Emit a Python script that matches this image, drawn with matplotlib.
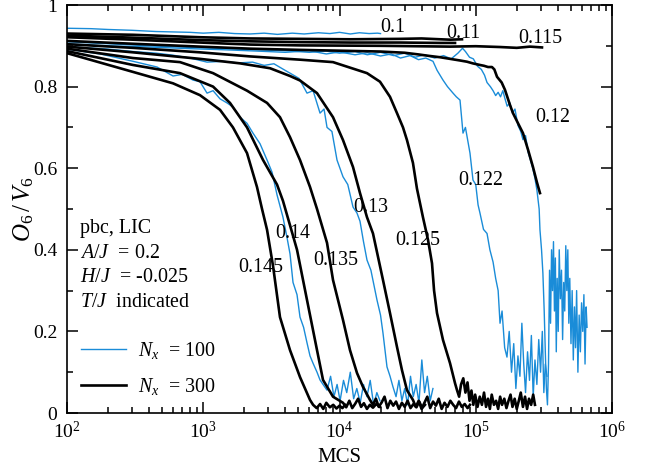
#!/usr/bin/env python3
# O6/V6 relaxation vs Monte Carlo steps, N_x = 100 (blue) and N_x = 300 (black)

from matplotlib import pyplot as plt
from matplotlib import ticker

plt.rcParams["font.family"] = "Liberation Serif"
plt.rcParams["mathtext.fontset"] = "custom"
plt.rcParams["mathtext.rm"] = "Liberation Serif"
plt.rcParams["mathtext.it"] = "Liberation Serif:italic"
plt.rcParams["mathtext.bf"] = "Liberation Serif:bold"

# ---- N_x = 100 (blue) ----
blue010X = [100, 150, 200, 300, 450, 600, 800, 1000, 1300, 1700, 2200, 2800, 3500, 4500, 5500, 7000, 8500, 10000, 12000, 14000, 16500, 19000, 20000]
blue010Y = [0.943, 0.942, 0.940, 0.938, 0.935, 0.934, 0.933, 0.931, 0.933, 0.930, 0.929, 0.931, 0.928, 0.931, 0.929, 0.932, 0.930, 0.933, 0.929, 0.932, 0.930, 0.931, 0.930]

blue012X = [100, 200, 400, 800, 1500, 2500, 4000, 6000, 8000, 10000, 13000, 16000, 20000, 25000, 30000, 36000, 42000, 50000, 58000, 66000, 74000, 80000, 84000, 90000, 96000,
            103000, 110000, 116000, 121000, 128000, 134000, 140000, 146000, 152000, 158000, 164000, 170000, 178000, 186000, 194000, 204000, 214000, 222000, 232000, 242000,
            252000, 262000, 272000, 281000, 292000, 296000, 304000, 311000, 318000, 324000, 330000, 336000, 342000, 348000, 354000, 360000, 366000, 372000, 378000, 384000,
            390000, 396000, 403000, 410000, 418000, 426000, 434000, 442000, 450000, 458000, 466000, 474000, 482000, 490000, 500000, 510000, 520000, 530000, 540000, 550000,
            562000, 574000, 586000, 598000, 610000, 622000, 634000, 646000, 656000]
blue012Y = [0.910, 0.905, 0.900, 0.896, 0.893, 0.890, 0.888, 0.884, 0.887, 0.882, 0.886, 0.878, 0.884, 0.876, 0.882, 0.872, 0.878, 0.870, 0.876, 0.868, 0.882, 0.894, 0.886, 0.872, 0.868,
            0.850, 0.842, 0.828, 0.810, 0.800, 0.790, 0.778, 0.786, 0.775, 0.790, 0.770, 0.752, 0.760, 0.735, 0.745, 0.705, 0.690, 0.670, 0.680, 0.640,
            0.620, 0.600, 0.575, 0.547, 0.500, 0.449, 0.400, 0.343, 0.250, 0.150, 0.060, 0.020, 0.120, 0.350, 0.220, 0.400, 0.300, 0.420, 0.250, 0.380,
            0.150, 0.330, 0.200, 0.400, 0.280, 0.350, 0.180, 0.320, 0.250, 0.410, 0.300, 0.400, 0.220, 0.330, 0.170, 0.300, 0.130, 0.260, 0.160, 0.300,
            0.100, 0.240, 0.150, 0.270, 0.200, 0.290, 0.120, 0.260, 0.210]

blue0122X = [100, 200, 400, 800, 1500, 2500, 4000, 6000, 8000, 10000, 13000, 16000, 20000, 24000, 28000, 33000, 38000, 43000, 48550, 52000, 57490, 62000, 68110, 72000,
             76640, 80610, 84000, 90720, 95430, 100000, 104000, 107400, 114000, 121000, 127000, 134000, 140000, 146000, 150700, 156000, 163000, 169500,
             176000, 183000, 190000, 197000, 204000, 211000, 218000, 225000, 232000, 240000, 248000, 256000, 264000, 272000, 281000, 290000, 299000, 308000,
             316000, 324000, 333000]
blue0122Y = [0.905, 0.900, 0.897, 0.893, 0.890, 0.887, 0.884, 0.888, 0.880, 0.885, 0.878, 0.883, 0.875, 0.880, 0.870, 0.876, 0.866, 0.870, 0.862, 0.840, 0.816, 0.800, 0.784, 0.775,
             0.767, 0.686, 0.700, 0.637, 0.571, 0.560, 0.510, 0.490, 0.450, 0.440, 0.400, 0.370, 0.330, 0.300, 0.220, 0.250, 0.160, 0.137,
             0.200, 0.100, 0.170, 0.060, 0.140, 0.090, 0.220, 0.120, 0.050, 0.150, 0.080, 0.190, 0.040, 0.130, 0.070, 0.180, 0.100, 0.200,
             0.050, 0.120, 0.090]

blue013X = [100, 200, 305, 450, 600, 800, 1066, 1400, 1800, 2300, 2800, 3300, 3980, 4333, 5050, 5774, 6400, 7195, 7700, 8098, 8800, 9587, 10608, 11500, 12560,
            13440, 14140, 15000, 15910, 17000, 18840, 20000, 20850, 22310, 23500, 24690, 26000, 27300, 28700, 30100, 31600, 33200, 34800, 36500, 38300,
            40200, 42100, 44100, 46300, 48500]
blue013Y = [0.898, 0.892, 0.886, 0.882, 0.877, 0.870, 0.860, 0.862, 0.858, 0.860, 0.852, 0.856, 0.840, 0.833, 0.820, 0.784, 0.790, 0.735, 0.745, 0.700, 0.690, 0.620, 0.579, 0.560, 0.505,
            0.490, 0.470, 0.420, 0.375, 0.350, 0.277, 0.240, 0.196, 0.113, 0.090, 0.064, 0.040, 0.080, 0.030, 0.060, 0.020, 0.090, 0.040, 0.070, 0.025,
            0.130, 0.050, 0.090, 0.030, 0.060]

blue014X = [100, 175, 305, 458, 600, 700, 841, 946, 1066, 1180, 1328, 1494, 1652, 1860, 2095, 2317, 2610, 2939, 3200, 3477, 3846, 4119, 4333, 4558, 4877,
            5130, 5450, 5774, 6074, 6393, 6839, 7195, 7568, 8098, 8600, 9100, 9600, 10100, 10700, 11300, 12000, 12700, 13400, 14200, 15000, 15900, 16800,
            17800, 18800, 19800]
blue014Y = [0.892, 0.880, 0.862, 0.848, 0.826, 0.830, 0.816, 0.812, 0.784, 0.790, 0.770, 0.760, 0.750, 0.725, 0.710, 0.686, 0.660, 0.620, 0.590, 0.535, 0.480, 0.430, 0.390, 0.320, 0.290,
            0.235, 0.210, 0.172, 0.140, 0.122, 0.100, 0.081, 0.070, 0.056, 0.090, 0.040, 0.070, 0.030, 0.080, 0.050, 0.100, 0.035, 0.060, 0.025, 0.070, 0.040, 0.080,
            0.020, 0.050, 0.030]

# ---- N_x = 300 (black) ----
black011X = [100, 305, 946, 2203, 5130, 11940, 27790, 40000, 54650, 65000, 79260]
black011Y = [0.930, 0.927, 0.921, 0.918, 0.917, 0.916, 0.917, 0.918, 0.916, 0.915, 0.916]

blackTopX = [100, 305, 946, 2203, 5130, 11940, 27790, 54650, 70450]
blackTopY = [0.925, 0.920, 0.914, 0.911, 0.909, 0.908, 0.908, 0.907, 0.907]

black0115X = [100, 305, 946, 2203, 5130, 19820, 64750, 100000, 150700, 200000, 250000, 306300]
black0115Y = [0.921, 0.915, 0.908, 0.903, 0.901, 0.900, 0.898, 0.899, 0.897, 0.895, 0.898, 0.896]

black012X = [100, 305, 946, 2203, 5130, 19820, 30000, 37670, 46110, 54650, 64750, 76640, 86240, 95000, 107400, 115000, 123000, 131500, 137000, 143300,
             155000, 163900, 178300, 187600, 204400, 222100, 242100, 263000, 281400, 296100]
black012Y = [0.912, 0.905, 0.898, 0.893, 0.890, 0.886, 0.883, 0.879, 0.875, 0.872, 0.868, 0.864, 0.861, 0.857, 0.853, 0.851, 0.848, 0.848, 0.842, 0.824,
             0.810, 0.792, 0.755, 0.735, 0.710, 0.686, 0.645, 0.603, 0.565, 0.539]

black0125X = [100, 305, 946, 2203, 5130, 8960, 15910, 19820, 23470, 26420, 29240, 31270, 34600, 37020, 40960, 44650, 47740, 49440, 51950, 57490, 64750,
              70450, 72860, 75500, 78000, 81000, 84000, 87000, 90000, 93000, 96000, 99000, 103000, 107000, 111000, 115000, 119000, 123000, 127000,
              131000, 136000, 141000, 146000, 151000, 156000, 162000, 168000, 174000, 180000, 186000, 193000, 200000, 207000, 214000, 222000, 230000,
              238000, 246000, 255000, 264000, 272000]
black0125Y = [0.904, 0.895, 0.884, 0.874, 0.866, 0.860, 0.833, 0.812, 0.775, 0.735, 0.700, 0.669, 0.613, 0.550, 0.480, 0.424, 0.367, 0.300, 0.245, 0.179, 0.122,
              0.073, 0.056, 0.040, 0.070, 0.085, 0.050, 0.075, 0.030, 0.055, 0.020, 0.045, 0.015, 0.040, 0.020, 0.050, 0.015, 0.035, 0.010,
              0.045, 0.020, 0.030, 0.010, 0.040, 0.020, 0.035, 0.012, 0.030, 0.045, 0.015, 0.035, 0.010, 0.030, 0.050, 0.015, 0.040,
              0.010, 0.035, 0.020, 0.045, 0.020]

black013X = [100, 305, 946, 1860, 3092, 4333, 5130, 6839, 8960, 10608, 12560, 14140, 15910, 17610, 20850, 23470, 26420, 28740, 31270, 34600,
             36300, 38100, 40000, 42000, 44100, 46300, 48600, 51000, 53500, 56200, 59000, 62000, 65100, 68300, 71700, 75300, 79000, 83000, 87100, 90700]
black013Y = [0.898, 0.884, 0.868, 0.857, 0.845, 0.826, 0.815, 0.784, 0.725, 0.669, 0.603, 0.539, 0.480, 0.440, 0.326, 0.245, 0.162, 0.105, 0.056, 0.032,
             0.015, 0.030, 0.010, 0.025, 0.040, 0.012, 0.028, 0.018, 0.035, 0.010, 0.025, 0.015, 0.030, 0.020, 0.012, 0.028, 0.015, 0.022, 0.012, 0.020]

black0135X = [100, 305, 675, 1180, 2095, 2939, 3657, 4333, 5130, 6074, 6839, 8098, 8960, 10608, 11940, 13440, 14870, 16740,
              17600, 18500, 19400, 20400, 21400, 22500, 23600, 24800, 26000, 27300, 28700, 30100, 31600, 33200, 34900, 36700, 38500, 40400, 42400]
black0135Y = [0.893, 0.870, 0.860, 0.833, 0.790, 0.760, 0.725, 0.676, 0.620, 0.554, 0.500, 0.417, 0.326, 0.228, 0.154, 0.098, 0.064, 0.032,
              0.020, 0.035, 0.015, 0.026, 0.040, 0.012, 0.030, 0.018, 0.028, 0.010, 0.025, 0.015, 0.030, 0.012, 0.022, 0.014, 0.028, 0.012, 0.020]

black014X = [100, 305, 675, 1180, 1571, 2095, 2747, 3477, 3846, 4333, 4877, 5774, 6839, 7568, 8960, 10608,
             11200, 11800, 12400, 13000, 13700, 14400, 15100, 15900, 16700, 17600, 18600, 19800]
black014Y = [0.887, 0.853, 0.833, 0.800, 0.760, 0.700, 0.620, 0.560, 0.520, 0.460, 0.400, 0.277, 0.154, 0.081, 0.040, 0.025,
             0.014, 0.030, 0.012, 0.022, 0.035, 0.015, 0.024, 0.010, 0.020, 0.013, 0.022, 0.015]

black0145X = [100, 305, 600, 946, 1328, 1652, 2095, 2479, 2700, 2939, 3253, 3657, 4333, 5130, 6074,
              6400, 6800, 7200, 7600, 8000, 8500, 9000, 9500, 10000, 10500, 11000]
black0145Y = [0.882, 0.836, 0.808, 0.779, 0.743, 0.700, 0.637, 0.554, 0.500, 0.449, 0.360, 0.235, 0.154, 0.088, 0.032,
              0.020, 0.012, 0.022, 0.010, 0.025, 0.014, 0.020, 0.011, 0.018, 0.012, 0.020]

# temperature labels (T/J) and where they sit
tempLabels = ["0.1", "0.11", "0.115", "0.12", "0.122", "0.13", "0.125", "0.135", "0.14", "0.145"]
labelX = [19820, 60500, 204200, 272100, 74100, 12560, 25500, 6393, 3366, 1799]
labelY = [0.935, 0.918, 0.908, 0.714, 0.559, 0.493, 0.412, 0.363, 0.428, 0.346]

blueColor = "#1a8cd8"
blueWidth = 1.0
blackWidth = 1.9

fig = plt.figure(figsize=(6.57, 4.72), dpi=100)
ax = fig.add_axes([0.102, 0.125, 0.8295, 0.8644])

blueSeries = [(blue010X, blue010Y), (blue012X, blue012Y), (blue0122X, blue0122Y), (blue013X, blue013Y), (blue014X, blue014Y)]
blackSeries = [(black011X, black011Y), (blackTopX, blackTopY), (black0115X, black0115Y), (black012X, black012Y), (black0125X, black0125Y),
               (black013X, black013Y), (black0135X, black0135Y), (black014X, black014Y), (black0145X, black0145Y)]
for xs, ys in blueSeries:
    blueLine, = ax.plot(xs, ys, color=blueColor, lw=blueWidth)
for xs, ys in blackSeries:
    blackLine, = ax.plot(xs, ys, color="black", lw=blackWidth)

for txt, lx, ly in zip(tempLabels, labelX, labelY):
    ax.text(lx, ly, txt, fontsize=14.4, ha="left", va="baseline")

ax.set_xscale("log")
ax.set_xlim(1e2, 1e6)
ax.set_ylim(0, 1)
ax.yaxis.set_major_locator(ticker.MultipleLocator(0.2))
ax.yaxis.set_minor_locator(ticker.MultipleLocator(0.1))
ax.yaxis.set_major_formatter(ticker.FuncFormatter(lambda v, p: "%g" % round(v, 2)))
ax.xaxis.set_minor_locator(ticker.LogLocator(base=10, subs=range(2, 10), numticks=20))
ax.xaxis.set_minor_formatter(ticker.NullFormatter())
ax.tick_params(which="both", direction="in", top=True, right=True, width=1.1)
ax.tick_params(which="major", length=8, labelsize=14)
ax.tick_params(which="minor", length=4.5)
ax.tick_params(axis="y", which="major", pad=7)
ax.tick_params(axis="x", which="major", pad=6)
for sp in ax.spines.values():
    sp.set_linewidth(1.2)

ax.set_xlabel("MCS", fontsize=15, labelpad=4)
ax.set_ylabel(r"$O_6\,/\,V_6$", fontsize=18, labelpad=-2)

infoLines = ["pbc, LIC", "$A/J$  = 0.2", "$H/J$  = -0.025", "$T/J$  indicated"]
infoY = [0.441, 0.380, 0.321, 0.260]
for txt, iy in zip(infoLines, infoY):
    ax.text(0.024, iy, txt, transform=ax.transAxes, fontsize=14.4, ha="left", va="baseline")

ax.legend([blueLine, blackLine], ["$N_x$  = 100", "$N_x$  = 300"], loc="upper left", bbox_to_anchor=(0.025, 0.18),
          frameon=False, fontsize=14.4, handlelength=2.25, handletextpad=0.6, labelspacing=0.75, borderpad=0, borderaxespad=0)

fig.savefig("out.png", dpi=100)
